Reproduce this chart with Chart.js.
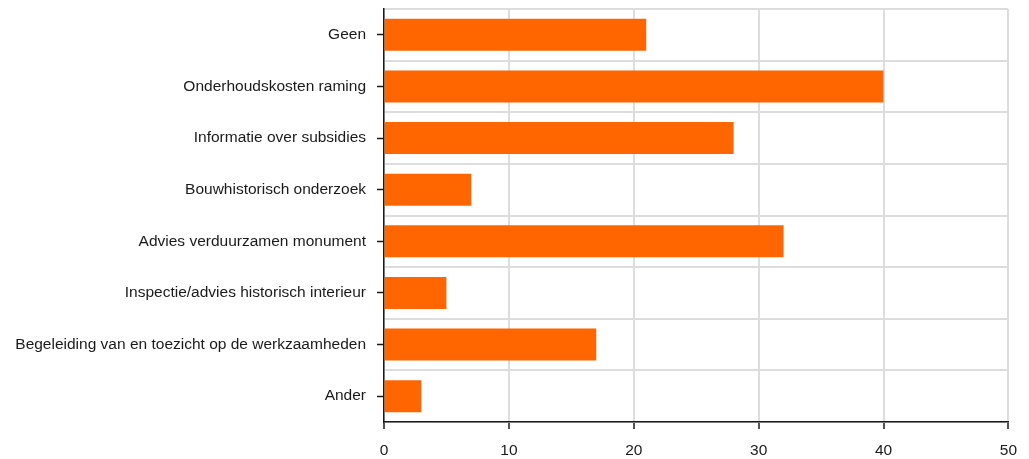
<!DOCTYPE html>
<html>
<head>
<meta charset="utf-8">
<script src="https://cdn.jsdelivr.net/npm/chart.js@4/dist/chart.umd.min.js"></script>
<style>
    html, body { margin: 0; padding: 0; background: #fff; }
    #wrap { width: 1029px; height: 459px; }
</style>
</head>
<body>
<div id="wrap"><canvas id="chart"></canvas></div>
<script>
// Data
const categories = [
    'Geen',
    'Onderhoudskosten raming',
    'Informatie over subsidies',
    'Bouwhistorisch onderzoek',
    'Advies verduurzamen monument',
    'Inspectie/advies historisch interieur',
    'Begeleiding van en toezicht op de werkzaamheden',
    'Ander'
];
const counts = [21, 40, 28, 7, 32, 5, 17, 3];
const xTicks = [0, 10, 20, 30, 40, 50];

const gridColor = '#dddddd';
const textColor = '#1a1a1a';

Chart.defaults.font.family = '"Liberation Sans", Arial, Helvetica, sans-serif';
Chart.defaults.font.size = 15.5;
Chart.defaults.color = textColor;

// category axes do not need the half-label space at top and bottom
function noVerticalPadding(scale) {
    scale.paddingTop = 0;
    scale.paddingBottom = 0;
}

const ctx = document.getElementById('chart').getContext('2d');
new Chart(ctx, {
    type: 'bar',
    data: {
        labels: categories,
        datasets: [{
            data: counts,
            backgroundColor: '#ff6600',
            borderWidth: 0,
            barPercentage: 0.62,
            categoryPercentage: 1.0
        }]
    },
    options: {
        indexAxis: 'y',
        responsive: true,
        maintainAspectRatio: false,
        animation: false,
        layout: {
            padding: { top: 9, right: 18, left: 0, bottom: 0 }
        },
        plugins: {
            legend: { display: false },
            tooltip: { enabled: false }
        },
        scales: {
            x: {
                min: xTicks[0],
                max: xTicks[xTicks.length - 1],
                afterBuildTicks: function(scale) {
                    scale.ticks = xTicks.map(v => ({ value: v }));
                },
                grid: {
                    color: gridColor,
                    lineWidth: 2,
                    tickColor: textColor,
                    tickLength: 7,
                    tickWidth: 1.5
                },
                border: { display: true, color: textColor, width: 1.5 },
                ticks: { padding: 12, color: textColor },
                afterFit: function(scale) { scale.height = 37; }
            },
            y: {
                type: 'category',
                offset: true,
                grid: {
                    offset: false,
                    drawOnChartArea: false,
                    tickColor: textColor,
                    tickLength: 7,
                    tickWidth: 1.5
                },
                border: { display: true, color: textColor, width: 1.5 },
                ticks: { padding: 11, color: textColor },
                afterFit: function(scale) {
                    scale.width = 384;
                    noVerticalPadding(scale);
                }
            },
            // second axis only for the lines between the categories
            yLines: {
                type: 'category',
                labels: categories,
                position: 'right',
                offset: true,
                grid: {
                    offset: true,
                    color: gridColor,
                    lineWidth: 2,
                    drawTicks: false
                },
                border: { display: false },
                ticks: { display: false },
                afterFit: function(scale) {
                    scale.width = 0;
                    noVerticalPadding(scale);
                }
            }
        }
    }
});
</script>
</body>
</html>
